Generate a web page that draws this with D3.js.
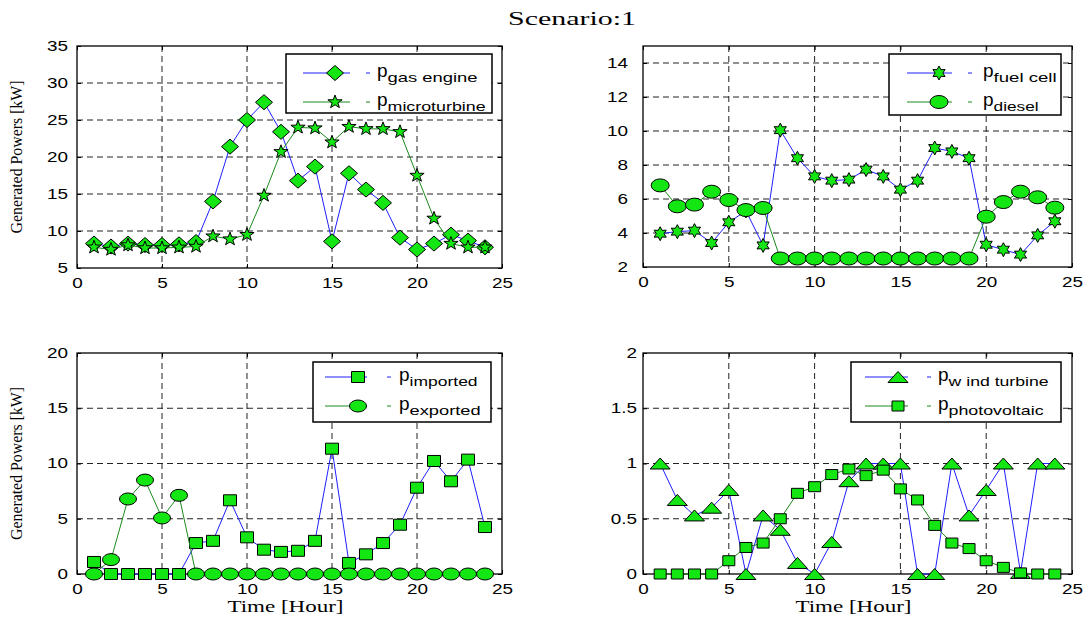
<!DOCTYPE html>
<html>
<head>
<meta charset="utf-8">
<script src="https://cdn.jsdelivr.net/npm/d3@7"></script>
<style>
  html, body { margin: 0; padding: 0; background: #fff; }
  svg { display: block; }
</style>
</head>
<body>
<svg id="chart" width="1088" height="618"></svg>
<script>
// Hourly generation schedule, scenario 1
const hours = [1,2,3,4,5,6,7,8,9,10,11,12,13,14,15,16,17,18,19,20,21,22,23,24];

const gasEngine    = [8.3,7.9,8.3,8.1,8.1,8.2,8.5,14.0,21.4,25.0,27.4,23.4,16.8,18.7,8.6,17.8,15.6,13.8,9.1,7.5,8.3,9.5,8.7,7.8];
const microturbine = [7.8,7.5,8.1,7.7,7.7,7.8,7.9,9.3,8.9,9.5,14.8,20.7,24.0,23.9,22.0,24.1,23.8,23.8,23.4,17.5,11.7,8.3,7.8,7.8];

const fuelCell = [3.96,4.08,4.14,3.41,4.63,5.3,3.27,10.05,8.4,7.33,7.08,7.14,7.73,7.33,6.55,7.08,9.0,8.8,8.4,3.31,3.02,2.73,3.86,4.69];
const diesel   = [6.8,5.57,5.67,6.43,5.94,5.35,5.47,2.5,2.5,2.5,2.5,2.5,2.5,2.5,2.5,2.5,2.5,2.5,2.5,4.96,5.82,6.43,6.1,5.49];

const imported = [1.09,0,0,0,0,0,2.8,3.0,6.67,3.32,2.2,2.0,2.1,3.0,11.34,1.0,1.78,2.8,4.46,7.81,10.23,8.39,10.35,4.25];
const exported = [0,1.3,6.79,8.5,5.07,7.12,0,0,0,0,0,0,0,0,0,0,0,0,0,0,0,0,0,0];

const windTurbine  = [1.0,0.67,0.53,0.6,0.76,0,0.53,0.4,0.1,0,0.29,0.84,1.0,1.0,1.0,0,0,1.0,0.53,0.76,1.0,0.01,1.0,1.0];
const photovoltaic = [0,0,0,0,0.12,0.24,0.28,0.5,0.73,0.79,0.9,0.95,0.89,0.94,0.77,0.67,0.44,0.28,0.23,0.12,0.06,0.01,0,0];

const xTicks = [0,5,10,15,20,25];
const yTicksGen   = [5,10,15,20,25,30,35];
const yTicksFuel  = [2,4,6,8,10,12,14];
const yTicksGrid  = [0,5,10,15,20];
const yTicksRenew = [0,0.5,1,1.5,2];

const seriesNames = [
  ["gas engine", "microturbine"],
  ["fuel cell", "diesel"],
  ["imported", "exported"],
  ["w ind turbine", "photovoltaic"]
];

const svg = d3.select("#chart");
const SANS = "'Liberation Sans', Arial, sans-serif";
const SERIF = "'Liberation Serif', 'Times New Roman', serif";
const FILL = "#14e614";
const BLUE = "#1f1fff";
const GREEN = "#1a8a1a";

// widen text horizontally (the rendering uses stretched glyphs)
function stretch(sel, k) {
  sel.each(function () {
    const len = this.getComputedTextLength();
    d3.select(this).attr("textLength", len * k).attr("lengthAdjust", "spacingAndGlyphs");
  });
}

// marker path builders centred on (0,0)
function starPath(points, inner, w, h) {
  const pts = [];
  for (let i = 0; i < points * 2; i++) {
    const r = i % 2 === 0 ? 1 : inner;
    const a = -Math.PI / 2 + i * Math.PI / points;
    pts.push([Math.cos(a) * r * w / 2, Math.sin(a) * r * h / 2]);
  }
  return "M" + pts.map(p => p.join(",")).join("L") + "Z";
}
const markers = {
  diamond: (w, h) => `M0,${-h/2}L${w/2},0L0,${h/2}L${-w/2},0Z`,
  pentagram: (w, h) => starPath(5, 0.40, w, h),
  hexagram: (w, h) => starPath(6, 0.55, w, h),
  square: (w, h) => `M${-w/2},${-h/2}h${w}v${h}h${-w}Z`,
  triangle: (w, h) => `M0,${-h/2}L${w/2},${h/2}L${-w/2},${h/2}Z`,
  circle: (w, h) => {
    const rx = w / 2, ry = h / 2;
    return `M${-rx},0A${rx},${ry} 0 1,0 ${rx},0A${rx},${ry} 0 1,0 ${-rx},0Z`;
  }
};

function drawMarker(g, type, size, x, y) {
  g.append("path")
    .attr("d", markers[type](size[0], size[1]))
    .attr("transform", `translate(${x},${y})`)
    .attr("fill", FILL)
    .attr("stroke", "#000")
    .attr("stroke-width", 1);
}

function panel(cfg) {
  const g = svg.append("g");
  const x = d3.scaleLinear().domain([0, 25]).range([cfg.left, cfg.right]);
  const y = d3.scaleLinear().domain(cfg.yDomain).range([cfg.bottom, cfg.top]);

  // grid
  const grid = g.append("g").attr("stroke", "#222").attr("stroke-width", 1).attr("stroke-dasharray", "6,4");
  xTicks.filter(t => t > 0 && t < 25).forEach(t => {
    grid.append("line").attr("x1", x(t)).attr("x2", x(t)).attr("y1", cfg.top).attr("y2", cfg.bottom);
  });
  cfg.yTicks.filter(t => t > cfg.yDomain[0] && t < cfg.yDomain[1]).forEach(t => {
    grid.append("line").attr("x1", cfg.left).attr("x2", cfg.right).attr("y1", y(t)).attr("y2", y(t));
  });

  // axes with inward ticks on all sides
  const tl = 4;
  g.append("g").attr("transform", `translate(0,${cfg.bottom})`)
    .call(d3.axisBottom(x).tickValues(xTicks).tickSize(-tl).tickPadding(tl + 6).tickFormat(d3.format("d")))
    .call(a => a.select(".domain").remove());
  g.append("g").attr("transform", `translate(0,${cfg.top})`)
    .call(d3.axisTop(x).tickValues(xTicks).tickSize(-tl).tickFormat(""))
    .call(a => a.select(".domain").remove());
  g.append("g").attr("transform", `translate(${cfg.left},0)`)
    .call(d3.axisLeft(y).tickValues(cfg.yTicks).tickSize(-tl).tickPadding(tl + cfg.yPad).tickFormat(d => String(d)))
    .call(a => a.select(".domain").remove());
  g.append("g").attr("transform", `translate(${cfg.right},0)`)
    .call(d3.axisRight(y).tickValues(cfg.yTicks).tickSize(-tl).tickFormat(""))
    .call(a => a.select(".domain").remove());
  g.selectAll(".tick line").attr("stroke", "#000");
  const labels = g.selectAll(".tick text")
    .attr("font-family", SANS).attr("font-size", 14).attr("fill", "#000");
  stretch(labels, 1.35);

  // frame
  g.append("rect").attr("x", cfg.left).attr("y", cfg.top)
    .attr("width", cfg.right - cfg.left).attr("height", cfg.bottom - cfg.top)
    .attr("fill", "none").attr("stroke", "#000").attr("stroke-width", 1.3);

  // series: line then markers, second series on top
  const line = d3.line().x((d, i) => x(hours[i])).y(d => y(d));
  cfg.series.forEach(s => {
    g.append("path").datum(s.values).attr("d", line)
      .attr("fill", "none").attr("stroke", s.color).attr("stroke-width", 1);
    const mg = g.append("g");
    s.values.forEach((v, i) => drawMarker(mg, s.marker, s.size, x(hours[i]), y(v)));
  });

  // legend
  const L = cfg.legend;
  const lg = g.append("g");
  lg.append("rect").attr("x", L.x).attr("y", L.y).attr("width", L.w).attr("height", L.h)
    .attr("fill", "#fff").attr("stroke", "#000").attr("stroke-width", 1.5);
  cfg.series.forEach((s, i) => {
    const ry = L.y + L.rows[i];
    lg.append("line").attr("x1", L.x + L.line[0]).attr("x2", L.x + L.line[1])
      .attr("y1", ry).attr("y2", ry).attr("stroke", s.color).attr("stroke-width", 1);
    drawMarker(lg, s.marker, s.size, L.x + L.mark, ry);
    lg.append("line").attr("x1", L.x + L.dash).attr("x2", L.x + L.dash + 4)
      .attr("y1", ry).attr("y2", ry).attr("stroke", s.color).attr("stroke-width", 1);
    const t = lg.append("text").attr("x", L.x + L.text).attr("y", ry + 4)
      .attr("font-family", SANS).attr("font-size", 19).attr("fill", "#000");
    t.append("tspan").text("p");
    t.append("tspan").attr("dy", 5).attr("font-size", 13).text(s.name)
      .attr("textLength", L.sub[i]).attr("lengthAdjust", "spacingAndGlyphs");
  });

  if (cfg.xLabel) {
    svg.append("text").attr("x", (cfg.left + cfg.right) / 2 - 4).attr("y", cfg.bottom + 38)
      .attr("text-anchor", "middle").attr("font-family", SERIF).attr("font-size", 16)
      .attr("textLength", 116).attr("lengthAdjust", "spacingAndGlyphs")
      .text("Time [Hour]");
  }
  if (cfg.yLabel) {
    const cy = (cfg.top + cfg.bottom) / 2 + 0;
    svg.append("text").attr("transform", `translate(22,${cy}) rotate(-90)`)
      .attr("text-anchor", "middle").attr("font-family", SERIF).attr("font-size", 16)
      .attr("textLength", 153).attr("lengthAdjust", "spacingAndGlyphs")
      .text("Generated Powers [kW]");
  }
}

svg.append("text").attr("x", 572).attr("y", 25).attr("text-anchor", "middle")
  .attr("font-family", SERIF).attr("font-size", 19)
  .attr("textLength", 128).attr("lengthAdjust", "spacingAndGlyphs")
  .text("Scenario:1");

panel({
  left: 77, right: 502, top: 46, bottom: 268, yDomain: [5, 35], yTicks: yTicksGen, yPad: 5,
  yLabel: true,
  series: [
    { name: seriesNames[0][0], values: gasEngine, color: BLUE, marker: "diamond", size: [17, 15] },
    { name: seriesNames[0][1], values: microturbine, color: GREEN, marker: "pentagram", size: [15, 14] }
  ],
  legend: { x: 286, y: 54, w: 206, h: 59, rows: [19, 48], line: [17, 64], mark: 49, dash: 80, text: 91, sub: [90, 98] }
});

panel({
  left: 643, right: 1072, top: 46, bottom: 267, yDomain: [2, 15], yTicks: yTicksFuel, yPad: 11,
  series: [
    { name: seriesNames[1][0], values: fuelCell, color: BLUE, marker: "hexagram", size: [14, 14] },
    { name: seriesNames[1][1], values: diesel, color: GREEN, marker: "circle", size: [18, 13] }
  ],
  legend: { x: 889, y: 54, w: 172, h: 61, rows: [19, 48], line: [18, 63], mark: 50, dash: 79, text: 94, sub: [63, 45] }
});

panel({
  left: 77, right: 502, top: 353, bottom: 574, yDomain: [0, 20], yTicks: yTicksGrid, yPad: 5,
  yLabel: true, xLabel: true,
  series: [
    { name: seriesNames[2][0], values: imported, color: BLUE, marker: "square", size: [13, 11] },
    { name: seriesNames[2][1], values: exported, color: GREEN, marker: "circle", size: [17, 12] }
  ],
  legend: { x: 313, y: 362, w: 178, h: 60, rows: [15, 44], line: [12, 54], mark: 45, dash: 74, text: 86, sub: [68, 71] }
});

panel({
  left: 643, right: 1072, top: 353, bottom: 574, yDomain: [0, 2], yTicks: yTicksRenew, yPad: 2,
  xLabel: true,
  series: [
    { name: seriesNames[3][0], values: windTurbine, color: BLUE, marker: "triangle", size: [20, 11] },
    { name: seriesNames[3][1], values: photovoltaic, color: GREEN, marker: "square", size: [12, 10] }
  ],
  legend: { x: 851, y: 362, w: 210, h: 60, rows: [15, 44], line: [14, 57], mark: 47, dash: 76, text: 87, sub: [100, 95] }
});
</script>
</body>
</html>
